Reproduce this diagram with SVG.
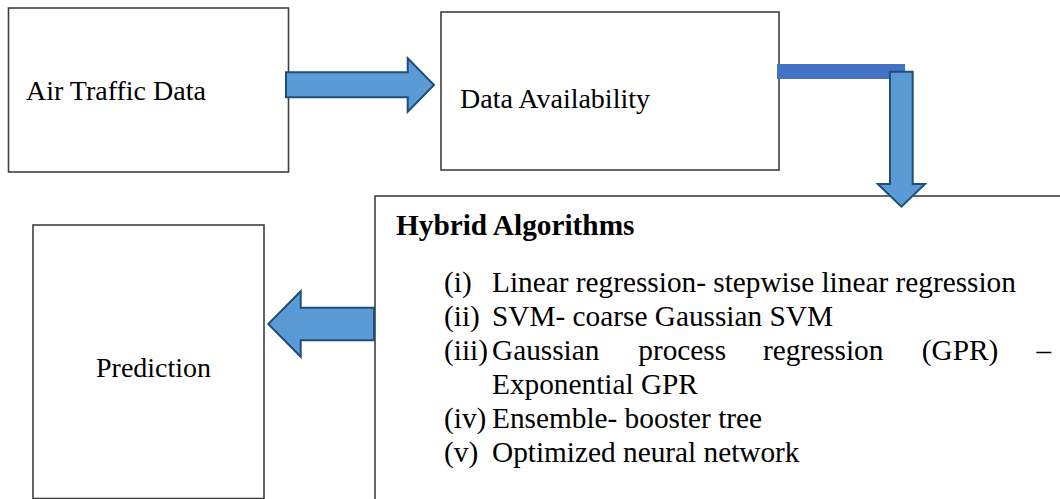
<svg xmlns="http://www.w3.org/2000/svg" width="1060" height="499" viewBox="0 0 1060 499">
<style>
.box{fill:#ffffff;stroke:#404040;stroke-width:1.6}
.arrow{fill:#5B9BD5;stroke:#1F4E79;stroke-width:2;stroke-linejoin:miter}
.t{font-family:"Liberation Serif","Times New Roman",serif;font-size:28px;fill:#000}
.h{font-size:29.3px}
.b{font-weight:bold}
</style>
<rect width="1060" height="499" fill="#ffffff"/>
<g id="node-air-traffic">
<rect class="box" x="8.5" y="8" width="280" height="164"/>
<text class="t" x="26" y="100">Air Traffic Data</text>
</g>
<g id="node-data-availability">
<rect class="box" x="441" y="12" width="338" height="158"/>
<text class="t" x="460" y="108">Data Availability</text>
</g>
<g id="node-hybrid">
<rect class="box" x="375" y="196" width="720" height="340"/>
<text class="t h b" x="396" y="235">Hybrid Algorithms</text>
<text class="t h" x="444" y="292">(i)</text>
<text class="t h" x="492" y="292">Linear regression- stepwise linear regression</text>
<text class="t h" x="444" y="326">(ii)</text>
<text class="t h" x="492" y="326">SVM- coarse Gaussian SVM</text>
<text class="t h" x="444" y="360">(iii)</text>
<text class="t h" x="492" y="360">Gaussian</text>
<text class="t h" x="638.3" y="360">process</text>
<text class="t h" x="763" y="360">regression</text>
<text class="t h" x="921.8" y="360">(GPR)</text>
<text class="t h" x="1036.6" y="360">–</text>
<text class="t h" x="492" y="394">Exponential GPR</text>
<text class="t h" x="444" y="428">(iv)</text>
<text class="t h" x="492" y="428">Ensemble- booster tree</text>
<text class="t h" x="444" y="462">(v)</text>
<text class="t h" x="492" y="462">Optimized neural network</text>
</g>
<g id="node-prediction">
<rect class="box" x="33" y="225" width="231" height="273.5"/>
<text class="t" x="96" y="377">Prediction</text>
</g>
<g id="connectors">
<polygon class="arrow" points="286,72.3 407.7,72.3 407.7,58.3 434,85 407.7,111.7 407.7,97.3 286,97.3"/>
<rect x="777" y="64" width="128" height="15" fill="#4472C4"/>
<polygon class="arrow" points="890,71.7 912.7,71.7 912.7,184 925,184 901.4,206.7 877.8,184 890,184"/>
<polygon class="arrow" points="374,307.8 300.7,307.8 300.7,291.2 268.3,324 300.7,356.8 300.7,340.2 374,340.2"/>
</g>
</svg>
